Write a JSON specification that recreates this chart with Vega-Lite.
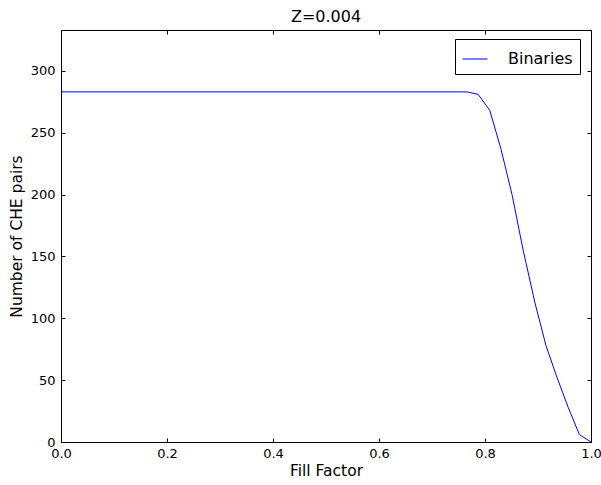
{
  "$schema": "https://vega.github.io/schema/vega-lite/v6.json",
  "width": 530,
  "height": 412,
  "autosize": {"type": "none"},
  "padding": {"left": 61, "top": 30, "right": 10, "bottom": 43},
  "background": "white",
  "title": {"text": "Z=0.004", "fontSize": 16, "fontWeight": "normal", "font": "DejaVu Sans", "offset": 5, "color": "black"},
  "config": {
    "view": {"stroke": "black", "strokeWidth": 1},
    "font": "DejaVu Sans",
    "axis": {"grid": false, "domain": false, "tickSize": 4, "offset": -4, "tickWidth": 1, "tickColor": "black", "labelColor": "black", "labelFontSize": 13, "titleFontSize": 15.5, "titleFontWeight": "normal", "titleColor": "black", "labelFont": "DejaVu Sans", "titleFont": "DejaVu Sans", "labelFlush": false, "labelOverlap": false}
  },
  "data": {"values": [
    {"f": 0.0, "n": 283, "s": "Binaries"},
    {"f": 0.766, "n": 283, "s": "Binaries"},
    {"f": 0.787, "n": 281, "s": "Binaries"},
    {"f": 0.809, "n": 268, "s": "Binaries"},
    {"f": 0.830, "n": 237, "s": "Binaries"},
    {"f": 0.851, "n": 200, "s": "Binaries"},
    {"f": 0.872, "n": 155, "s": "Binaries"},
    {"f": 0.894, "n": 113, "s": "Binaries"},
    {"f": 0.915, "n": 78, "s": "Binaries"},
    {"f": 0.936, "n": 52, "s": "Binaries"},
    {"f": 0.957, "n": 28, "s": "Binaries"},
    {"f": 0.978, "n": 6, "s": "Binaries"},
    {"f": 1.0, "n": 0, "s": "Binaries"}
  ]},
  "layer": [
    {
      "mark": {"type": "line", "strokeWidth": 1, "clip": true},
      "encoding": {
        "x": {"field": "f", "type": "quantitative", "scale": {"domain": [0, 1], "nice": false, "zero": false}, "axis": {"title": "Fill Factor", "values": [0, 0.2, 0.4, 0.6, 0.8, 1.0], "format": ".1f", "labelPadding": 5, "titlePadding": 3}},
        "y": {"field": "n", "type": "quantitative", "scale": {"domain": [0, 333], "nice": false}, "axis": {"title": "Number of CHE pairs", "values": [0, 50, 100, 150, 200, 250, 300], "labelPadding": 6, "titlePadding": 6}},
        "color": {"field": "s", "type": "nominal", "scale": {"range": ["#0000ff"]}, "legend": {"title": null, "orient": "none", "legendX": 394, "legendY": 9, "strokeColor": "black", "fillColor": "white", "padding": 7, "symbolType": "M-1,0H1", "symbolSize": 625, "symbolStrokeWidth": 1, "labelFontSize": 16, "labelFont": "DejaVu Sans", "labelColor": "black", "labelOffset": 20, "cornerRadius": 0}}
      }
    },
    {
      "mark": {"type": "line", "opacity": 0},
      "encoding": {
        "x": {"field": "f", "type": "quantitative", "axis": {"orient": "top", "labels": false, "title": null, "values": [0, 0.2, 0.4, 0.6, 0.8, 1.0]}},
        "y": {"field": "n", "type": "quantitative", "axis": {"orient": "right", "labels": false, "title": null, "values": [0, 50, 100, 150, 200, 250, 300]}}
      }
    }
  ],
  "resolve": {"axis": {"x": "independent", "y": "independent"}}
}
